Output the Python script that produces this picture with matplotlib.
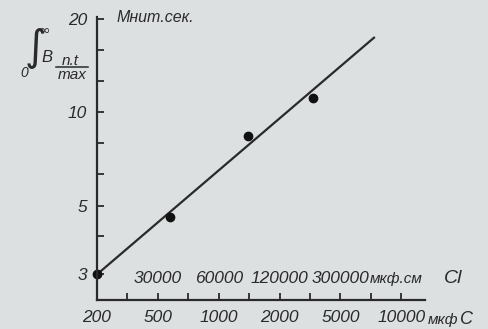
import numpy as np
import matplotlib
matplotlib.use("Agg")
import matplotlib.pyplot as plt

# measured points (C in мкф, integral in Мнит.сек.)
cap = [200, 575, 1390, 3300]
integral = [3.0, 4.6, 8.4, 11.1]
# fitted straight line drawn through the points
fit_cap = [200, 7400]
fit_integral = [3.0, 17.5]

x_ticks = [200, 500, 1000, 2000, 5000, 10000]
x_labels = ["200", "500", "1000", "2000", "5000", "10000"]
cl_labels = ["30000", "60000", "120000", "300000"]
cl_at = [500, 1000, 2000, 5000]
y_ticks = [3, 5, 10, 20]

bg = "#dde0e1"
ink = "#2a2a2a"
plt.rcParams["font.family"] = ["Liberation Sans", "DejaVu Sans"]
plt.rcParams["font.style"] = "italic"
plt.rcParams["mathtext.fontset"] = "custom"
plt.rcParams["mathtext.it"] = "Liberation Sans:italic"
plt.rcParams["mathtext.rm"] = "Liberation Sans:italic"

# the x axis has the 1-2-5 values evenly spaced
anchor_v = np.log10([100, 200, 500, 1000, 2000, 5000, 10000, 20000, 50000])
anchor_p = np.arange(-1, 8)

def fwd(x):
    x = np.clip(np.asarray(x, dtype=float), 1e-3, None)
    return np.interp(np.log10(x), anchor_v, anchor_p)

def inv(p):
    return 10 ** np.interp(p, anchor_p, anchor_v)

fig = plt.figure(figsize=(4.88, 3.29), dpi=100, facecolor=bg)
ax = fig.add_axes([97 / 488, 1 - 300 / 329, 328 / 488, 283 / 329])
ax.set_facecolor(bg)
ax.set_xscale("function", functions=(fwd, inv))
ax.set_yscale("log")
ax.set_xlim(200, inv(5.39))
ax.set_ylim(2.48, 20.3)

ax.plot(fit_cap, fit_integral, color=ink, lw=1.6, solid_capstyle="butt")
ax.plot(cap, integral, "o", color="#111111", ms=6, clip_on=False)

for s in ["top", "right"]:
    ax.spines[s].set_visible(False)
for s in ["left", "bottom"]:
    ax.spines[s].set_color(ink)
    ax.spines[s].set_linewidth(1.6)

ax.set_xticks(x_ticks)
ax.set_xticklabels(x_labels)
ax.set_xticks(inv(np.arange(0.5, 5, 1.0)), minor=True)
ax.set_yticks(y_ticks)
ax.set_yticklabels([str(v) for v in y_ticks])
ax.set_yticks([10 ** (k / 10) for k in [6, 8, 9, 11, 12]], minor=True)
ax.yaxis.set_minor_formatter(plt.NullFormatter())
ax.tick_params(which="both", direction="in", length=5, width=1.3, color=ink,
               labelcolor=ink, labelsize=12.5)
ax.tick_params(axis="y", which="both", pad=7)
ax.tick_params(axis="x", which="both", pad=7)

# second scale row (Cl) written above the axis
for v, t in zip(cl_at, cl_labels):
    ax.text(v, 2.9, t, ha="center", va="center", fontsize=12.5, color=ink)
ax.text(inv(4.49), 2.9, "мкф.см", ha="left", va="center", fontsize=11, color=ink)
ax.text(inv(5.86), 2.92, "Cl", ha="center", va="center", fontsize=14, color=ink)

ax.text(inv(5.44), 2.14, "мкф", ha="left", va="center", fontsize=11,
        color=ink, clip_on=False)
ax.text(inv(6.07), 2.14, "C", ha="center", va="center", fontsize=13,
        color=ink, clip_on=False)

fig.text(155 / 488, 1 - 18 / 329, "Мнит.сек.", ha="center", va="center",
         fontsize=11.5, color=ink)

# y-axis quantity: integral from 0 to infinity of B n.t / max
fig.text(35 / 488, 1 - 48 / 329, "∫", ha="center", va="center",
         fontsize=30, color=ink, family="DejaVu Sans", style="normal")
fig.text(44 / 488, 1 - 31 / 329, "∞", ha="center", va="center",
         fontsize=10, color=ink, family="DejaVu Sans", style="normal")
fig.text(24 / 488, 1 - 73 / 329, "0", ha="center", va="center",
         fontsize=10, color=ink)
fig.text(47 / 488, 1 - 57 / 329, "B", ha="center", va="center",
         fontsize=12, color=ink)
fig.text(70 / 488, 1 - 61 / 329, "n.t", ha="center", va="center",
         fontsize=11, color=ink)
fig.add_artist(plt.Line2D([56 / 488, 88 / 488], [1 - 67 / 329, 1 - 67 / 329],
                          color=ink, lw=1.1))
fig.text(72 / 488, 1 - 75 / 329, "max", ha="center", va="center",
         fontsize=11, color=ink)

fig.savefig("out.png", dpi=100, facecolor=bg)
